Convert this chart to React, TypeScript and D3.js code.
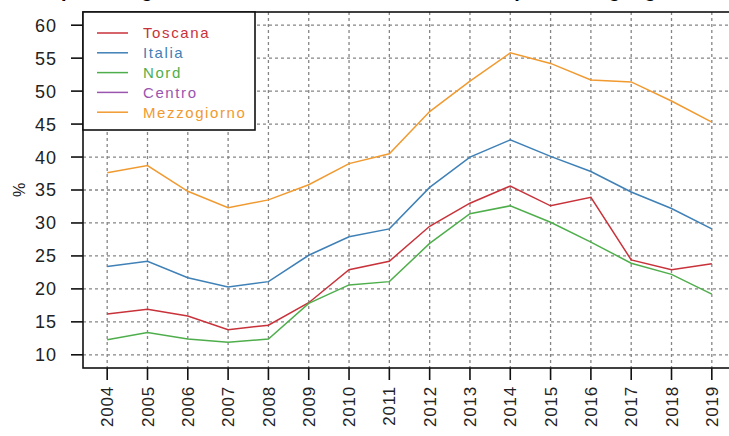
import React from "react";
import * as d3 from "d3";

const years = [2004, 2005, 2006, 2007, 2008, 2009, 2010, 2011, 2012, 2013, 2014, 2015, 2016, 2017, 2018, 2019];
const toscana = [16.2, 16.9, 15.9, 13.8, 14.5, 17.9, 22.9, 24.2, 29.5, 33.0, 35.6, 32.6, 33.9, 24.4, 22.9, 23.8];
const italia = [23.4, 24.2, 21.7, 20.3, 21.1, 25.1, 27.9, 29.1, 35.4, 40.0, 42.6, 40.1, 37.8, 34.7, 32.2, 29.1];
const nord = [12.3, 13.4, 12.4, 11.9, 12.4, 17.8, 20.6, 21.1, 26.9, 31.4, 32.6, 30.1, 27.1, 23.9, 22.2, 19.2];
const centro: (number | null)[] = [null, null, null, null, null, null, null, null, null, null, null, null, null, null, null, null];
const mezzogiorno = [37.6, 38.7, 34.8, 32.3, 33.5, 35.8, 39.0, 40.5, 46.9, 51.5, 55.8, 54.2, 51.7, 51.4, 48.5, 45.3];
const yTicks = [10, 15, 20, 25, 30, 35, 40, 45, 50, 55, 60];
const seriesNames = ["Toscana", "Italia", "Nord", "Centro", "Mezzogiorno"];
const seriesColors = ["#C8323A", "#3F80B6", "#4FAE4C", "#9A55AE", "#F09A30"];
const titleText = "Tasso di disoccupazione giovanile 15-24 anni, Toscana, Italia e ripartizioni geografiche, 2004-2019";

export default function App() {
  const W = 729, H = 436;
  const left = 83, right = 736, top = 12, bottom = 368;
  const x = d3.scaleLinear().domain([2004 - 0.6, 2019 + 0.6]).range([left, right]);
  const y = d3.scaleLinear().domain([8, 62]).range([bottom, top]);
  const data = [toscana, italia, nord, centro, mezzogiorno];
  const line = d3
    .line<number | null>()
    .defined((d) => d !== null)
    .x((_, i) => x(years[i]))
    .y((d) => y(d as number));
  const font = "Liberation Sans, Arial, sans-serif";
  const gridColor = "#858585";
  return (
    <svg width={W} height={H} style={{ position: "absolute", left: 0, top: 0, background: "#fff" }} fontFamily={font}>
      <rect x={0} y={0} width={W} height={H} fill="#fff" />
      <text x={W / 2} y={-3} textAnchor="middle" fontSize={20} fontWeight="bold" fill="#000">{titleText}</text>
      {/* grid */}
      {years.map((yr) => (
        <line key={"gx" + yr} x1={x(yr)} x2={x(yr)} y1={top} y2={bottom} stroke={gridColor} strokeWidth={1.3} strokeDasharray="3,3" />
      ))}
      {yTicks.map((t) => (
        <line key={"gy" + t} x1={left} x2={right} y1={y(t)} y2={y(t)} stroke={gridColor} strokeWidth={1.3} strokeDasharray="3,3" />
      ))}
      {/* series */}
      {data.map((s, i) => (
        <path key={seriesNames[i]} d={line(s as (number | null)[]) || ""} fill="none" stroke={seriesColors[i]} strokeWidth={1.5} />
      ))}
      {/* box */}
      <rect x={left} y={top} width={right - left} height={bottom - top} fill="none" stroke="#111" strokeWidth={1.6} />
      {/* y axis */}
      {yTicks.map((t) => (
        <g key={"yt" + t}>
          <line x1={left - 12} x2={left} y1={y(t)} y2={y(t)} stroke="#111" strokeWidth={1.6} />
          <text x={57} y={y(t)} dy="0.36em" textAnchor="end" fontSize={18} letterSpacing={1} fill="#222">{t}</text>
        </g>
      ))}
      <text transform={`translate(19,190) rotate(-90)`} textAnchor="middle" dy="0.35em" fontSize={16} fill="#222">%</text>
      {/* x axis */}
      {years.map((yr) => (
        <g key={"xt" + yr}>
          <line x1={x(yr)} x2={x(yr)} y1={bottom} y2={bottom + 12} stroke="#111" strokeWidth={1.6} />
          <text transform={`translate(${x(yr)},386) rotate(-90)`} textAnchor="end" dy="0.36em" fontSize={17} letterSpacing={0.8} fill="#222">{yr}</text>
        </g>
      ))}
      {/* legend */}
      <rect x={left} y={top} width={172} height={118} fill="#fff" stroke="#111" strokeWidth={1.6} />
      {seriesNames.map((n, i) => (
        <g key={"lg" + n}>
          <line x1={97} x2={128} y1={33 + i * 19.8} y2={33 + i * 19.8} stroke={seriesColors[i]} strokeWidth={1.5} />
          <text x={143} y={33 + i * 19.8} dy="0.36em" fontSize={15} letterSpacing={1.6} fill={seriesColors[i]}>{n}</text>
        </g>
      ))}
    </svg>
  );
}
